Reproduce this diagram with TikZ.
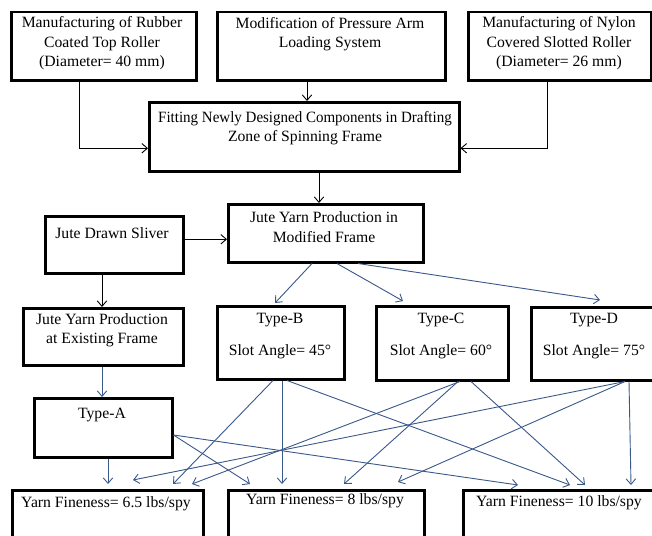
\documentclass[tikz,border=0pt]{standalone}
\usepackage{fontspec}
\usepackage{graphicx}
\setmainfont{Liberation Serif}
\usetikzlibrary{arrows.meta}
\definecolor{lineblue}{RGB}{58,88,138}
\begin{document}
\begin{tikzpicture}[x=1pt,y=-1pt,
  box/.style n args={2}{draw=black, line width=2.5pt, minimum width=#1, minimum height=#2, inner sep=0pt, anchor=north west},
  txt/.style={font=\fontsize{15.7}{19.5}\selectfont, align=center, inner sep=0pt, text=black},
  conn/.style={line width=0.9pt, -{Straight Barb[length=5.5pt,width=9.5pt]}},
  bconn/.style={conn, draw=lineblue}]
\fill[white] (0,0) rectangle (652,535);
\useasboundingbox (0,0) rectangle (652,535);
\clip (0,0) rectangle (652,535);
% boxes
\node[box={185pt}{68pt}] (b1) at (10,11) {};
\node[box={228pt}{68pt}] (b2) at (216,11) {};
\node[box={183pt}{68pt}] (b3) at (467,11) {};
\node[box={310pt}{69pt}] (fit) at (148,101) {};
\node[box={195pt}{58pt}] (jm) at (227,203) {};
\node[box={138pt}{57pt}] (sl) at (44,215) {};
\node[box={160pt}{57pt}] (je) at (22,307) {};
\node[box={127pt}{73pt}] (tb) at (216,305) {};
\node[box={132pt}{74pt}] (tc) at (375,305) {};
\node[box={128pt}{73pt}] (td) at (530,306) {};
\node[box={138pt}{59pt}] (ta) at (33,397) {};
\node[box={191pt}{80pt}] (y1) at (11,489) {};
\node[box={196pt}{80pt}] (y2) at (227,489) {};
\node[box={196pt}{80pt}] (y3) at (462,489) {};
% texts
\node[txt] (b1t) at (102,43.5) {Manufacturing of Rubber\\Coated Top Roller\\(Diameter= 40 mm)};
\node[txt] (b2t) at (330,34) {Modification of Pressure Arm\\Loading System};
\node[txt] (b3t) at (559,43.5) {Manufacturing of Nylon\\Covered Slotted Roller\\(Diameter= 26 mm)};
\node[txt] (fitt) at (305,128) {\scalebox{0.955}[1]{Fitting Newly Designed Components in Drafting}\\Zone of Spinning Frame};
\node[txt] (jmt) at (324,227) {Jute Yarn Production in\\Modified Frame};
\node[txt] (slt) at (112,233) {Jute Drawn Sliver};
\node[txt] (jet) at (102,330) {Jute Yarn Production\\at Existing Frame};
\node[txt] (tbt) at (280,336) {Type-B\\[12.5pt]Slot Angle= 45°};
\node[txt] (tct) at (441,336) {Type-C\\[12.5pt]Slot Angle= 60°};
\node[txt] (tdt) at (594,336) {Type-D\\[12.5pt]Slot Angle= 75°};
\node[txt] (tat) at (102,415) {Type-A};
\node[txt] (y1t) at (106,504) {Yarn Fineness= 6.5 lbs/spy};
\node[txt] (y2t) at (325,501) {Yarn Fineness= 8 lbs/spy};
\node[txt] (y3t) at (559,503) {Yarn Fineness= 10 lbs/spy};
% black connectors
\draw[conn] ([xshift=69pt]b1.south west) |- ([yshift=-11.5pt]fit.west);
\draw[conn] ([xshift=91pt]b2.south west) -- ([xshift=91pt]b2.south west |- fit.north);
\draw[conn] ([xshift=80pt]b3.south west) |- ([yshift=-11.5pt]fit.east);
\draw[conn] ([xshift=171pt]fit.south west) -- ([xshift=171pt]fit.south west |- jm.north);
\draw[conn] ([yshift=5.5pt]sl.east) -- ([yshift=5.5pt]sl.east -| jm.west);
\draw[conn] ([xshift=58pt]sl.south west) -- ([xshift=58pt]sl.south west |- je.north);
% blue connectors
\draw[bconn] ([xshift=80pt]je.south west) -- ([xshift=69pt]ta.north west);
\draw[bconn] ([xshift=85pt]jm.south west) -- ([xshift=59pt,yshift=2pt]tb.north west);
\draw[bconn] ([xshift=110pt]jm.south west) -- ([xshift=28pt,yshift=4pt]tc.north west);
\draw[bconn] ([xshift=131pt]jm.south west) -- ([xshift=70pt,yshift=6pt]td.north west);
\draw[bconn] ([xshift=75pt]ta.south west) -- ([xshift=97pt,yshift=5pt]y1.north west);
\draw[bconn] ([yshift=-38pt]ta.north east) -- ([xshift=23pt,yshift=5pt]y2.north west);
\draw[bconn] ([yshift=-38pt]ta.north east) -- ([xshift=56pt,yshift=4pt]y3.north west);
\draw[bconn] ([xshift=57pt]tb.south west) -- ([xshift=162pt,yshift=5pt]y1.north west);
\draw[bconn] ([xshift=66pt]tb.south west) -- ([xshift=55pt,yshift=5pt]y2.north west);
\draw[bconn] ([xshift=71pt]tb.south west) -- ([xshift=108pt,yshift=4pt]y3.north west);
\draw[bconn] ([xshift=85pt]tc.south west) -- ([xshift=181pt,yshift=5pt]y1.north west);
\draw[bconn] ([xshift=83pt]tc.south west) -- ([xshift=117pt,yshift=5pt]y2.north west);
\draw[bconn] ([xshift=96pt]tc.south west) -- ([xshift=123pt,yshift=4pt]y3.north west);
\draw[bconn] ([xshift=95pt]td.south west) -- ([xshift=122pt,yshift=9pt]y1.north west);
\draw[bconn] ([xshift=95pt]td.south west) -- ([xshift=171pt,yshift=7pt]y2.north west);
\draw[bconn] ([xshift=99pt]td.south west) -- ([xshift=169pt,yshift=4pt]y3.north west);
\end{tikzpicture}
\end{document}
